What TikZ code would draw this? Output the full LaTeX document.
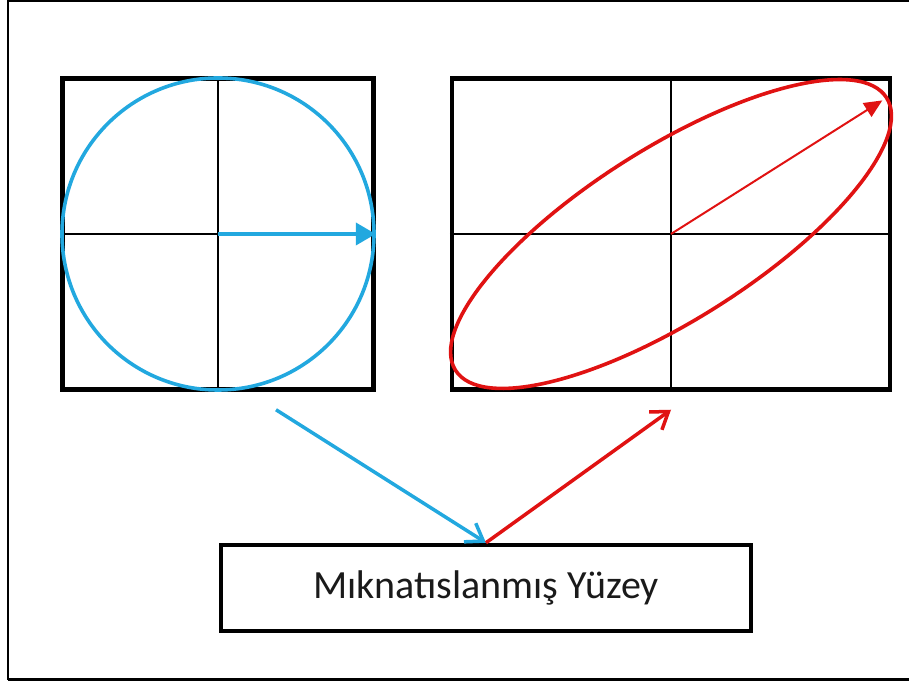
\documentclass[tikz,border=0pt]{standalone}
\usepackage{fontspec}
\setmainfont{Carlito}
\usepackage{xcolor}
\usepackage{tikz}
\usetikzlibrary{positioning,arrows.meta}
\definecolor{Ink}{HTML}{000000}
\definecolor{Linear}{HTML}{22A8DF}
\definecolor{Ellip}{HTML}{E01212}
\definecolor{Label}{HTML}{1A1A1A}
\newcommand{\AxisPanel}[4]{%
\node[draw=Ink, line width=4.5pt, minimum width=#1, minimum height=#2,
      inner sep=0pt] (#3) at #4 {};
\draw[Ink, line width=2pt] (#3.north) -- (#3.south);
\draw[Ink, line width=2pt] (#3.west) -- (#3.east);
}

\begin{document}
\begin{tikzpicture}[
    x=1pt,
    y=1pt,
    every node/.style={font=\normalsize}
]
\useasboundingbox (0,0) rectangle (909,684);

% Frame (open to the right)
\draw[Ink, line width=2pt] (909,683) -- (8,683) -- (8,4);
\draw[Ink, line width=3pt] (8,4) -- (909,4);

% Linear polarisation
\AxisPanel{311pt}{311pt}{pL}{(218,450)}
\draw[Linear, line width=3.6pt] (pL.center) circle[radius=156];
\draw[-{Triangle[length=20pt,width=22pt]}, Linear, line width=4pt]
(pL.center) -- (pL.east);

% Elliptical polarisation
\AxisPanel{438pt}{311pt}{pR}{(671,450)}
\draw[Ellip, line width=3.6pt] (pR.center) ellipse[x radius=255, y radius=86, rotate=32.3];
\coordinate (tipR) at ([shift={(32.3:250)}]pR.center);
\draw[-{Triangle[length=18pt,width=16pt]}, Ellip, line width=2pt]
(pR.center) -- (tipR);

% Surface
\node[draw=Ink, line width=4.5pt, minimum width=530pt, minimum height=86pt,
      inner sep=0pt, text=Label, font=\fontsize{40}{46}\selectfont] (surf) at (486,96)
      {Mıknatıslanmış Yüzey};

\coordinate (inB) at ([xshift=58pt,yshift=-18pt]pL.south);
\coordinate (outR) at ([yshift=-18pt]pR.south);
\draw[-{Straight Barb[length=16pt,width=22pt]}, Linear, line width=3.5pt]
(inB) -- (surf.north);
\draw[-{Straight Barb[length=16pt,width=22pt]}, Ellip, line width=3.5pt]
(surf.north) -- (outR);

\end{tikzpicture}
\end{document}
